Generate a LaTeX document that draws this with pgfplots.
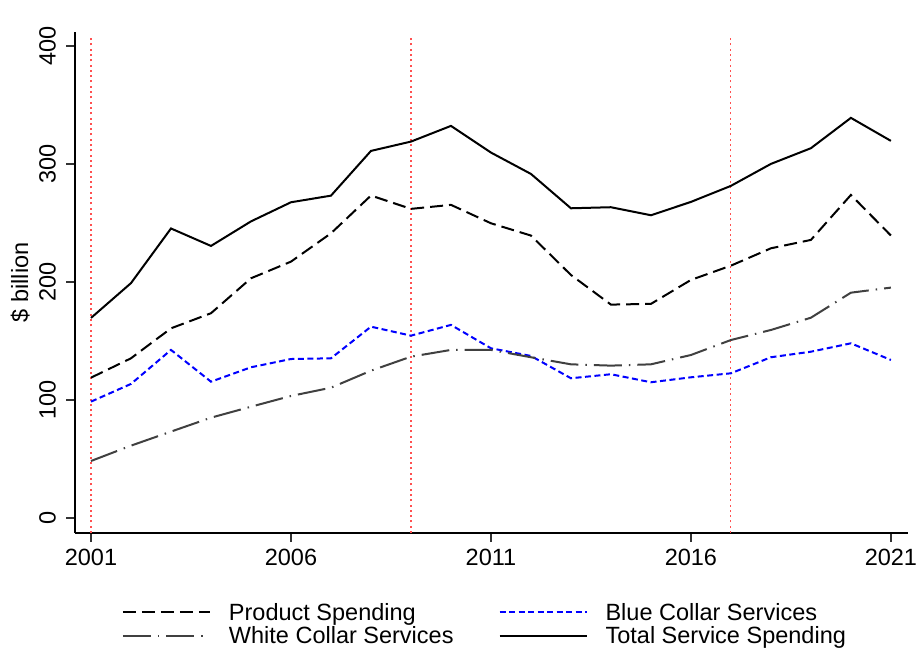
\documentclass[border=0pt]{standalone}
\usepackage{fontspec}
\setmainfont{Liberation Sans}
\usepackage{pgfplots}
\pgfplotsset{compat=1.18}
\newcommand\ff{\fontsize{23.5}{26}\selectfont}
\definecolor{wcgray}{RGB}{64,64,64}
\definecolor{vred}{RGB}{255,80,80}
\begin{document}
\begin{tikzpicture}
\begin{axis}[
  scale only axis,
  width=832.7pt, height=501.3pt,
  xmin=2000.6, xmax=2021.42,
  ymin=-12.7, ymax=412,
  axis x line*=bottom, axis y line*=left,
  axis line style={line width=1.3pt, black},
  xtick={2001,2006,2011,2016,2021},
  ytick={0,100,200,300,400},
  tick align=outside,
  major tick length=9pt,
  tick style={line width=1.3pt, black!80},
  /pgf/number format/assume math mode=true,
  xticklabel style={font=\ff, inner sep=0pt, /pgf/number format/1000 sep={}, yshift=-7pt},
  yticklabel style={font=\ff, inner sep=0pt, rotate=90, anchor=south, yshift=10pt},
  ylabel={\$ billion},
  ylabel style={font=\ff, inner sep=0pt, at={(axis description cs:-0.054,0.5)}, anchor=south, rotate=0},
  legend columns=2,
  legend cell align=left,
  legend image code/.code={\draw[#1] (0pt,0pt) -- (87pt,0pt);},
  legend style={at={(axis description cs:0.0564,-0.1396)}, anchor=north west,
    draw=none, fill=none, inner sep=0pt, outer sep=0pt, font=\ff,
    row sep=5pt, nodes={inner sep=0pt},
    /tikz/every odd column/.style={column sep=18pt},
    /tikz/every even column/.style={column sep=45pt}},
]
% vertical reference lines
\addplot[forget plot, color=vred, line width=1.1pt, dash pattern=on 2pt off 3.3pt] coordinates {(2001,-12.7) (2001,409)};
\addplot[forget plot, color=vred, line width=1.1pt, dash pattern=on 2pt off 3.3pt] coordinates {(2009,-12.7) (2009,409)};
\addplot[forget plot, color=vred, line width=1.1pt, dash pattern=on 2pt off 3.3pt] coordinates {(2017,-12.7) (2017,409)};

% Product Spending
\addplot[black, line width=2pt, dash pattern=on 13pt off 6pt] coordinates {
(2001,118.9) (2002,135.3) (2003,160.7) (2004,173.5) (2005,203.1) (2006,217.2) (2007,241.2)
(2008,273.2) (2009,261.9) (2010,265.3) (2011,249.7) (2012,239.3) (2013,205.9) (2014,180.8)
(2015,181.4) (2016,201.7) (2017,213.8) (2018,228.5) (2019,235.6) (2020,273.7) (2021,239.3)};
\addlegendentry{Product Spending}

% Blue Collar Services
\addplot[blue, line width=2pt, dash pattern=on 6pt off 3.5pt] coordinates {
(2001,98.6) (2002,113.6) (2003,142.4) (2004,115.5) (2005,127.7) (2006,134.7) (2007,135.3)
(2008,162.1) (2009,154.5) (2010,163.6) (2011,143.8) (2012,137.3) (2013,118.4) (2014,121.8)
(2015,115.0) (2016,119.2) (2017,122.6) (2018,136.2) (2019,140.9) (2020,148.0) (2021,133.9)};
\addlegendentry{Blue Collar Services}

% White Collar Services
\addplot[wcgray, line width=2pt, dash pattern=on 28pt off 7pt on 1.5pt off 7pt] coordinates {
(2001,48.3) (2002,61.3) (2003,73.2) (2004,85.0) (2005,94.3) (2006,103.4) (2007,110.4)
(2008,124.8) (2009,136.7) (2010,142.4) (2011,142.4) (2012,136.2) (2013,130.2) (2014,129.1)
(2015,130.2) (2016,138.1) (2017,150.8) (2018,159.3) (2019,169.7) (2020,190.9) (2021,195.2)};
\addlegendentry{White Collar Services}

% Total Service Spending
\addplot[black, line width=2pt] coordinates {
(2001,169.5) (2002,199.0) (2003,245.3) (2004,230.5) (2005,251.3) (2006,267.5) (2007,273.1)
(2008,311.0) (2009,318.9) (2010,332.2) (2011,309.6) (2012,291.5) (2013,262.4) (2014,263.3)
(2015,256.5) (2016,267.8) (2017,281.4) (2018,300.0) (2019,313.3) (2020,339.0) (2021,319.5)};
\addlegendentry{Total Service Spending}
\end{axis}
\pgfresetboundingbox
\path[use as bounding box] ([shift={(-75pt,-126pt)}]current axis.south west) rectangle ([shift={(844pt,533pt)}]current axis.south west);
\end{tikzpicture}
\end{document}
